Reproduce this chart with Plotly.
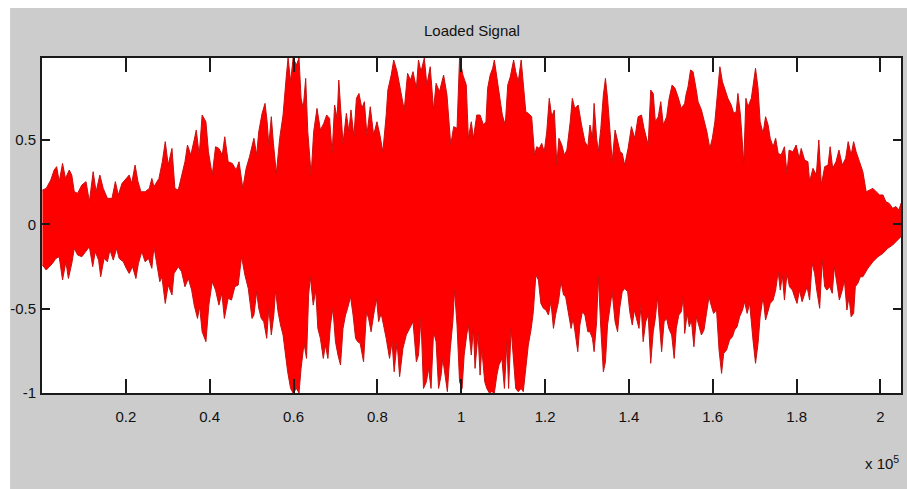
import plotly.graph_objects as go

# ---------------- chart values ----------------
title_text = "Loaded Signal"
x_tick_vals = [0.2, 0.4, 0.6, 0.8, 1.0, 1.2, 1.4, 1.6, 1.8, 2.0]
x_tick_text = ["0.2", "0.4", "0.6", "0.8", "1", "1.2", "1.4", "1.6", "1.8", "2"]
y_tick_vals = [-1, -0.5, 0, 0.5]
y_tick_text = ["-1", "-0.5", "0", "0.5"]
x_scale_label = "x 10<sup>5</sup>"

# Upper envelope of the signal: (sample index / 1e5, amplitude)
upper_env_a = [
    (0.001, 0.203), (0.010, 0.213), (0.021, 0.263), (0.029, 0.322), (0.035, 0.342),
    (0.041, 0.253), (0.049, 0.361), (0.056, 0.272), (0.065, 0.322), (0.071, 0.292),
    (0.077, 0.193), (0.085, 0.184), (0.095, 0.233), (0.105, 0.253), (0.113, 0.134),
    (0.122, 0.312), (0.129, 0.193), (0.138, 0.292), (0.146, 0.213), (0.156, 0.154),
    (0.167, 0.154), (0.175, 0.253), (0.182, 0.174), (0.191, 0.243), (0.201, 0.272),
    (0.208, 0.292), (0.214, 0.243), (0.222, 0.351), (0.229, 0.253), (0.236, 0.193),
    (0.246, 0.193), (0.256, 0.213), (0.262, 0.272), (0.267, 0.223), (0.279, 0.272),
    (0.287, 0.371), (0.294, 0.490), (0.301, 0.351), (0.310, 0.450), (0.317, 0.213),
    (0.325, 0.203), (0.333, 0.292), (0.341, 0.371), (0.347, 0.470), (0.355, 0.411),
    (0.363, 0.500), (0.368, 0.559), (0.375, 0.411), (0.382, 0.648), (0.391, 0.608),
    (0.397, 0.430), (0.406, 0.292), (0.414, 0.460), (0.422, 0.450), (0.430, 0.411),
    (0.436, 0.519), (0.444, 0.371), (0.454, 0.361), (0.463, 0.322), (0.470, 0.371),
    (0.479, 0.213), (0.487, 0.332), (0.495, 0.401),
]
upper_env_b = [
    (0.5055, 0.510), (0.512, 0.411), (0.517, 0.549), (0.525, 0.658), (0.532, 0.717),
    (0.537, 0.608), (0.541, 0.470), (0.547, 0.638), (0.552, 0.480), (0.559, 0.302),
    (0.567, 0.510), (0.575, 0.648), (0.583, 0.885), (0.587, 0.986), (0.593, 0.846),
    (0.599, 0.986), (0.607, 0.944), (0.613, 0.986), (0.618, 0.747), (0.623, 0.687),
    (0.629, 0.865), (0.634, 0.549), (0.642, 0.292), (0.648, 0.549), (0.656, 0.687),
    (0.664, 0.559), (0.672, 0.598), (0.679, 0.648), (0.686, 0.628), (0.692, 0.421),
    (0.698, 0.707), (0.704, 0.628), (0.708, 0.855), (0.713, 0.687), (0.718, 0.480),
    (0.726, 0.658), (0.732, 0.549), (0.737, 0.678), (0.744, 0.519), (0.750, 0.747),
    (0.756, 0.776), (0.763, 0.687), (0.769, 0.727), (0.775, 0.529), (0.783, 0.697),
    (0.791, 0.529), (0.799, 0.608), (0.806, 0.529), (0.813, 0.430), (0.821, 0.648),
    (0.825, 0.796), (0.833, 0.885), (0.839, 0.974), (0.847, 0.905), (0.855, 0.786),
    (0.864, 0.678), (0.872, 0.895), (0.879, 0.855), (0.885, 0.905), (0.893, 0.806),
    (0.898, 0.974), (0.904, 0.905), (0.912, 0.986), (0.918, 0.826), (0.926, 0.934),
    (0.934, 0.678), (0.940, 0.836), (0.948, 0.786), (0.958, 0.885), (0.966, 0.766),
    (0.975, 0.470), (0.982, 0.579), (0.990, 0.569), (0.996, 0.986), (1.004, 0.885),
    (1.012, 0.826),
]
upper_env_c = [
    (1.017, 0.510), (1.024, 0.608), (1.029, 0.510), (1.037, 0.648), (1.045, 0.648),
    (1.053, 0.589), (1.059, 0.608), (1.063, 0.806), (1.069, 0.885), (1.075, 0.925),
    (1.079, 0.974), (1.087, 0.846), (1.093, 0.747), (1.098, 0.648), (1.105, 0.589),
    (1.111, 0.826), (1.117, 0.875), (1.125, 0.974), (1.130, 0.905), (1.136, 0.846),
    (1.143, 0.974), (1.148, 0.826), (1.154, 0.668), (1.160, 0.658), (1.168, 0.638),
    (1.175, 0.411), (1.180, 0.460), (1.186, 0.450), (1.192, 0.480), (1.198, 0.430),
    (1.204, 0.549), (1.210, 0.747), (1.216, 0.638), (1.222, 0.678), (1.228, 0.351),
    (1.233, 0.510), (1.240, 0.470), (1.246, 0.411), (1.252, 0.440), (1.260, 0.608),
    (1.265, 0.747), (1.271, 0.687), (1.279, 0.707), (1.287, 0.589), (1.295, 0.490),
    (1.302, 0.460), (1.307, 0.589), (1.313, 0.510), (1.317, 0.717), (1.323, 0.510),
    (1.327, 0.430), (1.333, 0.569), (1.339, 0.766), (1.344, 0.865), (1.349, 0.747),
    (1.355, 0.549), (1.360, 0.371), (1.367, 0.559), (1.373, 0.490), (1.379, 0.430),
    (1.384, 0.421), (1.390, 0.351), (1.398, 0.450), (1.406, 0.579), (1.414, 0.510),
    (1.422, 0.638), (1.430, 0.648), (1.436, 0.569), (1.446, 0.470), (1.452, 0.796),
    (1.458, 0.776), (1.463, 0.608), (1.470, 0.638), (1.476, 0.727), (1.482, 0.589),
    (1.490, 0.638), (1.496, 0.747), (1.503, 0.826), (1.510, 0.806), (1.517, 0.757),
    (1.525, 0.687), (1.533, 0.717),
]
upper_env_d = [
    (1.536, 0.766), (1.541, 0.816), (1.547, 0.915), (1.553, 0.905), (1.560, 0.806),
    (1.565, 0.727), (1.573, 0.678), (1.581, 0.608), (1.586, 0.549), (1.593, 0.450),
    (1.599, 0.510), (1.605, 0.608), (1.610, 0.766), (1.617, 0.934), (1.623, 0.846),
    (1.629, 0.806), (1.636, 0.747), (1.644, 0.707), (1.650, 0.658), (1.656, 0.668),
    (1.660, 0.776), (1.666, 0.648), (1.674, 0.361), (1.679, 0.747), (1.684, 0.697),
    (1.692, 0.747), (1.698, 0.855), (1.702, 0.925), (1.708, 0.806), (1.713, 0.608),
    (1.720, 0.539), (1.726, 0.638), (1.732, 0.589), (1.737, 0.510), (1.744, 0.460),
    (1.750, 0.510), (1.756, 0.421), (1.763, 0.411), (1.771, 0.460), (1.777, 0.302),
    (1.782, 0.440), (1.791, 0.430), (1.799, 0.470), (1.806, 0.391), (1.811, 0.450),
    (1.819, 0.381), (1.827, 0.371), (1.831, 0.253), (1.839, 0.332), (1.847, 0.292),
    (1.853, 0.500), (1.859, 0.233), (1.867, 0.342), (1.875, 0.351), (1.880, 0.460),
    (1.886, 0.332), (1.894, 0.371), (1.901, 0.440), (1.909, 0.351), (1.917, 0.391),
    (1.923, 0.490), (1.930, 0.411), (1.936, 0.490), (1.942, 0.430), (1.950, 0.371),
    (1.958, 0.312), (1.966, 0.193), (1.974, 0.203), (1.982, 0.213), (1.990, 0.193),
    (1.998, 0.174), (2.006, 0.174), (2.013, 0.134), (2.021, 0.124), (2.029, 0.095),
    (2.037, 0.105), (2.044, 0.085), (2.049, 0.124),
]

# Lower envelope of the signal
lower_env_a = [
    (0.001, -0.241), (0.010, -0.271), (0.017, -0.251), (0.025, -0.232), (0.033, -0.202),
    (0.041, -0.192), (0.049, -0.330), (0.057, -0.222), (0.063, -0.321), (0.071, -0.232),
    (0.077, -0.143), (0.085, -0.182), (0.095, -0.192), (0.105, -0.162), (0.113, -0.133),
    (0.121, -0.251), (0.127, -0.162), (0.135, -0.212), (0.140, -0.311), (0.148, -0.202),
    (0.156, -0.222), (0.162, -0.152), (0.170, -0.212), (0.178, -0.143), (0.184, -0.202),
    (0.194, -0.222), (0.201, -0.261), (0.208, -0.291), (0.216, -0.251), (0.224, -0.321),
    (0.230, -0.232), (0.238, -0.162), (0.246, -0.222), (0.254, -0.202), (0.262, -0.261),
    (0.267, -0.133), (0.273, -0.222), (0.281, -0.340), (0.286, -0.311), (0.294, -0.469),
    (0.301, -0.360), (0.310, -0.419), (0.315, -0.291), (0.325, -0.251), (0.333, -0.281),
    (0.341, -0.370), (0.349, -0.321), (0.357, -0.390), (0.363, -0.479), (0.371, -0.558),
    (0.376, -0.488), (0.382, -0.637), (0.391, -0.696), (0.398, -0.479), (0.406, -0.340),
    (0.414, -0.390), (0.422, -0.479), (0.429, -0.409), (0.435, -0.558), (0.444, -0.439),
    (0.452, -0.449), (0.460, -0.370), (0.468, -0.360), (0.476, -0.192), (0.484, -0.301),
    (0.492, -0.380), (0.501, -0.558),
]
lower_env_b = [
    (0.5055, -0.538), (0.512, -0.400), (0.517, -0.498), (0.523, -0.558), (0.529, -0.577),
    (0.536, -0.676), (0.541, -0.498), (0.547, -0.656), (0.553, -0.538), (0.557, -0.390),
    (0.563, -0.518), (0.569, -0.597), (0.575, -0.656), (0.581, -0.775), (0.586, -0.874),
    (0.593, -0.973), (0.599, -1.000), (0.607, -0.973), (0.613, -1.000), (0.618, -0.854),
    (0.625, -0.706), (0.631, -0.795), (0.636, -0.419), (0.640, -0.311), (0.647, -0.479),
    (0.653, -0.390), (0.658, -0.617), (0.664, -0.676), (0.671, -0.795), (0.676, -0.716),
    (0.682, -0.795), (0.688, -0.597), (0.694, -0.498), (0.700, -0.696), (0.706, -0.775),
    (0.712, -0.834), (0.718, -0.617), (0.724, -0.538), (0.729, -0.498), (0.736, -0.429),
    (0.742, -0.538), (0.748, -0.676), (0.753, -0.696), (0.759, -0.706), (0.767, -0.815),
    (0.774, -0.518), (0.779, -0.558), (0.785, -0.637), (0.791, -0.538), (0.798, -0.439),
    (0.803, -0.577), (0.809, -0.528), (0.815, -0.597), (0.821, -0.676), (0.829, -0.795),
    (0.835, -0.696), (0.840, -0.874), (0.847, -0.696), (0.853, -0.903), (0.861, -0.735),
    (0.869, -0.656), (0.877, -0.617), (0.885, -0.577), (0.893, -0.815), (0.898, -0.775),
    (0.904, -0.558), (0.910, -0.973), (0.917, -0.933), (0.922, -0.854), (0.928, -0.973),
    (0.934, -0.637), (0.940, -0.696), (0.946, -0.973), (0.952, -0.894), (0.956, -0.795),
    (0.962, -0.894), (0.967, -0.992), (0.974, -0.735), (0.980, -0.577), (0.984, -0.390),
    (0.990, -0.597), (0.996, -0.933), (1.002, -0.973), (1.007, -0.775), (1.013, -0.656),
]
lower_env_c = [
    (1.017, -0.597), (1.024, -0.775), (1.029, -0.617), (1.033, -0.854), (1.040, -0.647),
    (1.045, -0.894), (1.049, -0.735), (1.056, -0.933), (1.061, -0.973), (1.067, -1.000),
    (1.073, -0.992), (1.079, -1.000), (1.085, -0.894), (1.090, -0.834), (1.097, -0.795),
    (1.103, -0.973), (1.109, -0.696), (1.113, -0.973), (1.119, -0.617), (1.125, -0.815),
    (1.130, -0.973), (1.136, -0.992), (1.143, -0.973), (1.148, -0.992), (1.154, -0.854),
    (1.160, -0.716), (1.167, -0.617), (1.172, -0.518), (1.178, -0.301), (1.184, -0.330),
    (1.190, -0.469), (1.196, -0.498), (1.202, -0.508), (1.208, -0.538), (1.214, -0.459),
    (1.220, -0.617), (1.225, -0.538), (1.232, -0.459), (1.238, -0.340), (1.244, -0.419),
    (1.249, -0.429), (1.256, -0.518), (1.262, -0.617), (1.267, -0.558), (1.273, -0.656),
    (1.278, -0.755), (1.283, -0.597), (1.289, -0.518), (1.295, -0.538), (1.302, -0.637),
    (1.307, -0.637), (1.313, -0.676), (1.317, -0.755), (1.323, -0.577), (1.327, -0.311),
    (1.333, -0.617), (1.339, -0.874), (1.344, -0.815), (1.349, -0.597), (1.355, -0.498),
    (1.360, -0.400), (1.367, -0.577), (1.373, -0.637), (1.378, -0.498), (1.384, -0.400),
    (1.390, -0.380), (1.397, -0.400), (1.402, -0.518), (1.408, -0.597), (1.413, -0.508),
    (1.418, -0.558), (1.424, -0.617), (1.429, -0.479), (1.434, -0.696), (1.440, -0.577),
    (1.446, -0.538), (1.452, -0.824), (1.458, -0.637), (1.463, -0.558), (1.468, -0.429),
    (1.474, -0.617), (1.478, -0.755), (1.484, -0.577), (1.490, -0.558), (1.495, -0.617),
    (1.502, -0.656), (1.508, -0.795), (1.513, -0.617), (1.519, -0.538), (1.525, -0.518),
    (1.530, -0.429),
]
lower_env_d = [
    (1.533, -0.647), (1.539, -0.528), (1.544, -0.607), (1.549, -0.567), (1.555, -0.726),
    (1.561, -0.548), (1.567, -0.607), (1.573, -0.656), (1.579, -0.627), (1.585, -0.528),
    (1.591, -0.429), (1.597, -0.488), (1.602, -0.528), (1.609, -0.508), (1.615, -0.745),
    (1.621, -0.884), (1.626, -0.765), (1.633, -0.745), (1.640, -0.686), (1.647, -0.666),
    (1.652, -0.627), (1.658, -0.607), (1.664, -0.548), (1.671, -0.508), (1.676, -0.459),
    (1.682, -0.528), (1.688, -0.469), (1.696, -0.686), (1.702, -0.824), (1.708, -0.706),
    (1.713, -0.548), (1.720, -0.429), (1.726, -0.567), (1.732, -0.508), (1.737, -0.469),
    (1.744, -0.449), (1.750, -0.390), (1.756, -0.281), (1.761, -0.390), (1.766, -0.301),
    (1.771, -0.449), (1.777, -0.291), (1.783, -0.370), (1.790, -0.390), (1.795, -0.429),
    (1.801, -0.469), (1.807, -0.390), (1.813, -0.459), (1.819, -0.409), (1.825, -0.370),
    (1.831, -0.449), (1.837, -0.231), (1.843, -0.291), (1.848, -0.390), (1.855, -0.498),
    (1.861, -0.212), (1.867, -0.370), (1.872, -0.390), (1.879, -0.370), (1.885, -0.409),
    (1.890, -0.251), (1.896, -0.350), (1.902, -0.449), (1.909, -0.390), (1.914, -0.330),
    (1.920, -0.508), (1.925, -0.429), (1.930, -0.548), (1.936, -0.528), (1.940, -0.370),
    (1.946, -0.350), (1.952, -0.311), (1.958, -0.311), (1.970, -0.261), (1.982, -0.222),
    (1.994, -0.192), (2.006, -0.172), (2.017, -0.143), (2.029, -0.123), (2.041, -0.093),
    (2.049, -0.073),
]

x_range = [0.0, 2.049]
y_range = [-1.0, 0.986]

# ---------------- figure ----------------
upper = upper_env_a + upper_env_b + upper_env_c + upper_env_d
lower = lower_env_a + lower_env_b + lower_env_c + lower_env_d

poly_x = [p[0] for p in upper] + [p[0] for p in reversed(lower)]
poly_y = [p[1] for p in upper] + [p[1] for p in reversed(lower)]

RED = "#ff0000"
AXIS = "#1a1a1a"
FONT = "Liberation Sans, Arial, sans-serif"
FS = 15

fig = go.Figure()
fig.add_trace(go.Scatter(
    x=poly_x, y=poly_y, mode="lines", fill="toself",
    fillcolor=RED, line=dict(color="#c81010", width=1),
    hoverinfo="skip", showlegend=False,
))

W, H = 907, 489
ML, MR, MT, MB = 42, 4, 58, 96
pw, ph = W - ML - MR, H - MT - MB

axis_common = dict(
    showgrid=False, zeroline=False, showline=True, linecolor=AXIS, linewidth=2,
    mirror="ticks", ticks="inside", tickcolor=AXIS, tickwidth=1.5,
    tickfont=dict(family=FONT, size=FS, color="#111111"),
)

fig.update_layout(
    width=W, height=H,
    margin=dict(l=ML, r=MR, t=MT, b=MB, pad=0),
    paper_bgcolor="#cccccc", plot_bgcolor="#ffffff",
    xaxis=dict(range=x_range, tickvals=x_tick_vals, ticktext=x_tick_text,
               ticklen=14, ticklabelstandoff=9, **axis_common),
    yaxis=dict(range=y_range, tickvals=y_tick_vals, ticktext=y_tick_text,
               ticklen=8, ticklabelstandoff=1, **axis_common),
    showlegend=False,
)

# white strips of the screenshot border (left and top)
fig.add_shape(type="rect", xref="paper", yref="paper",
              x0=-ML / pw - 0.01, x1=(10 - ML) / pw, y0=-MB / ph - 0.05, y1=1 + MT / ph + 0.05,
              fillcolor="#ffffff", line=dict(width=0), layer="above")
fig.add_shape(type="rect", xref="paper", yref="paper",
              x0=-ML / pw - 0.01, x1=1 + MR / pw + 0.01, y0=1 + (MT - 8) / ph, y1=1 + MT / ph + 0.05,
              fillcolor="#ffffff", line=dict(width=0), layer="above")

fig.add_annotation(text=title_text, xref="paper", yref="paper",
                   x=0.5, y=1 + (MT - 30) / ph, xanchor="center", yanchor="middle",
                   showarrow=False, font=dict(family=FONT, size=FS, color="#111111"))
fig.add_annotation(text=x_scale_label, xref="paper", yref="paper",
                   x=1.0, y=-(462 - (H - MB)) / ph, xanchor="right", yanchor="middle",
                   showarrow=False, font=dict(family=FONT, size=FS, color="#111111"))

fig.write_html("out.html")
